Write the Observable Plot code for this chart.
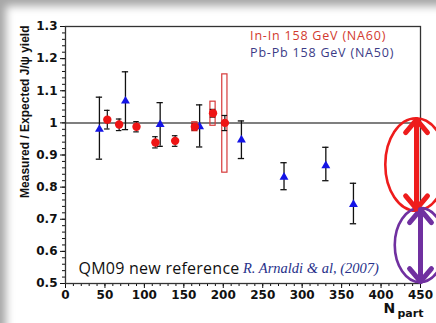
<!DOCTYPE html>
<html><head><meta charset="utf-8">
<script src="https://cdn.jsdelivr.net/npm/d3@7"></script>
<script src="https://cdn.jsdelivr.net/npm/@observablehq/plot@0.6"></script>
<style>
html,body{margin:0;padding:0;background:#fff;}
#wrap{position:relative;width:436px;height:323px;overflow:hidden;background:#fff;}
#wrap svg{display:block;}
#shade{position:absolute;left:0;top:0;width:436px;height:323px;pointer-events:none;
  box-shadow: inset 9px 9px 8px -3px rgba(0,0,0,0.35);}
g[aria-description="legend"] text{letter-spacing:0.8px;}
g[aria-description="ref"] text{letter-spacing:0.25px;}
</style></head><body>
<div id="wrap"><div id="shade"></div></div>
<script>
// NA50 Pb-Pb 158 GeV
const naNpart = [43, 76, 120, 170, 223, 277, 330, 365];
const naRatio = [0.980, 1.068, 0.995, 0.988, 0.947, 0.831, 0.867, 0.746];
const naLow   = [0.887, 0.979, 0.927, 0.925, 0.889, 0.792, 0.820, 0.686];
const naHigh  = [1.080, 1.159, 1.063, 1.056, 1.006, 0.876, 0.924, 0.812];
// NA60 In-In 158 GeV
const inNpart = [53, 68, 90, 114, 139, 164, 187, 202];
const inRatio = [1.010, 0.995, 0.988, 0.939, 0.944, 0.988, 1.030, 1.000];
const inLow   = [0.981, 0.976, 0.972, 0.922, 0.927, 0.978, 1.018, 0.976];
const inHigh  = [1.039, 1.012, 1.004, 0.957, 0.960, 0.998, 1.042, 1.023];
// NA60 systematic boxes
const sysNpart = [164, 187, 202];
const sysLow   = [0.974, 0.991, 0.845];
const sysHigh  = [1.002, 1.066, 1.151];
// right-hand annotation arrows / ellipses
const arrowN    = [445, 450];
const arrowTop  = [1.010, 0.730];
const arrowBot  = [0.732, 0.506];
const ellTop    = [1.013, 0.734];
const ellBottom = [0.725, 0.503];
const annColors = ["#ee1c1c", "#7030a0"];
// ticks
const yTicks = [0.5, 0.6, 0.7, 0.8, 0.9, 1.0, 1.1, 1.2, 1.3];
const yMinor = d3.range(25, 66).map(k => k / 50);
const xTicks = [0, 50, 100, 150, 200, 250, 300, 350, 400, 450];
const xMinor = d3.range(0, 46).map(k => k * 10);

const na = naNpart.map((n, i) => ({n, v: naRatio[i], lo: naLow[i], hi: naHigh[i]}));
const ini = inNpart.map((n, i) => ({n, v: inRatio[i], lo: inLow[i], hi: inHigh[i]}));
const sys = sysNpart.map((n, i) => ({n, lo: sysLow[i], hi: sysHigh[i]}));
const ann = arrowN.map((n, i) => ({n, a: arrowTop[i], b: arrowBot[i], t: ellTop[i], bo: ellBottom[i], c: annColors[i]}));
const ellRx = [39, 32];

const tickFont = {fontFamily: "DejaVu Sans", fontWeight: "bold", fontSize: 12};

const chart = Plot.plot({
  width: 436, height: 323,
  marginLeft: 65, marginRight: 16, marginTop: 26, marginBottom: 40,
  x: {domain: [0, 450]},
  y: {domain: [0.5, 1.3]},
  style: {background: "transparent", overflow: "visible"},
  marks: [
    Plot.axisY({ticks: yMinor, tickSize: 3, tickFormat: () => "", label: null, stroke: "#111"}),
    Plot.axisX({ticks: xMinor, tickSize: 3, tickFormat: () => "", label: null, stroke: "#111"}),
    Plot.axisY({ticks: yTicks, tickSize: 5, tickPadding: 3, tickFormat: d3.format("~g"), label: null, stroke: "#111", fill: "#111", ...tickFont}),
    Plot.axisX({ticks: xTicks, tickSize: 5, tickPadding: 2, tickFormat: d3.format("~g"), label: null, stroke: "#111", fill: "#111", ...tickFont}),
    Plot.ruleY([1], {stroke: "#555", strokeWidth: 1.5}),
    Plot.frame({stroke: "#333", strokeWidth: 1.3}),
    // systematic boxes
    Plot.rect(sys, {x1: d => d.n - 3.3, x2: d => d.n + 3.3, y1: "lo", y2: "hi", fill: "none", stroke: "#d63a3a", strokeWidth: 1.2}),
    // error bars
    Plot.ruleX(na, {x: "n", y1: "lo", y2: "hi", stroke: "#111", strokeWidth: 1.3}),
    Plot.ruleY(na, {y: "lo", x1: d => d.n - 4, x2: d => d.n + 4, stroke: "#111", strokeWidth: 1.3}),
    Plot.ruleY(na, {y: "hi", x1: d => d.n - 4, x2: d => d.n + 4, stroke: "#111", strokeWidth: 1.3}),
    Plot.ruleX(ini, {x: "n", y1: "lo", y2: "hi", stroke: "#111", strokeWidth: 1.2}),
    Plot.ruleY(ini, {y: "lo", x1: d => d.n - 3.5, x2: d => d.n + 3.5, stroke: "#111", strokeWidth: 1.2}),
    Plot.ruleY(ini, {y: "hi", x1: d => d.n - 3.5, x2: d => d.n + 3.5, stroke: "#111", strokeWidth: 1.2}),
    Plot.dot(na, {x: "n", y: "v", symbol: "triangle", r: 3.3, fill: "#1414e6", stroke: "none"}),
    Plot.dot(ini, {x: "n", y: "v", r: 4.2, fill: "#ee1414", stroke: "none"}),
    // legend texts
    Plot.text(["In-In 158 GeV (NA60)"], {x: 234, y: 1.269, textAnchor: "start", fill: "#d23a2e", fontFamily: "Open Sans", fontSize: 12.5, ariaDescription: "legend"}),
    Plot.text(["Pb-Pb 158 GeV (NA50)"], {x: 234, y: 1.219, textAnchor: "start", fill: "#3b3b86", fontFamily: "Open Sans", fontSize: 12.5, ariaDescription: "legend"}),
    Plot.text(["QM09 new reference"], {x: 16.5, y: 0.546, textAnchor: "start", fill: "#111", fontFamily: "Open Sans", fontSize: 16, ariaDescription: "ref"}),
    Plot.text(["R. Arnaldi & al, (2007)"], {x: 225, y: 0.548, textAnchor: "start", fill: "#27318a", fontFamily: "Liberation Serif", fontStyle: "italic", fontSize: 14.5}),
    // axis titles
    Plot.text(["Measured / Expected J/ψ yield"], {frameAnchor: "top-left", dx: -40, dy: -1, rotate: -90, textAnchor: "end", lineAnchor: "middle", fontFamily: "Liberation Sans", fontWeight: "bold", fontSize: 12, fill: "#111"}),
    Plot.text(["N"], {frameAnchor: "bottom-right", dx: -37, dy: 25, textAnchor: "start", lineAnchor: "middle", fontFamily: "DejaVu Sans", fontWeight: "bold", fontSize: 14, fill: "#111"}),
    Plot.text(["part"], {frameAnchor: "bottom-right", dx: -23, dy: 30, textAnchor: "start", lineAnchor: "middle", fontFamily: "DejaVu Sans", fontWeight: "bold", fontSize: 11, fill: "#111"}),
    // annotation ellipses
    (index, scales) => {
      const g = d3.create("svg:g").attr("fill", "none").attr("stroke-width", 2.6);
      ann.forEach((d, i) => {
        const cx = scales.x(d.n), yt = scales.y(d.t), yb = scales.y(d.bo);
        g.append("ellipse")
          .attr("cx", cx).attr("cy", (yt + yb) / 2)
          .attr("rx", scales.x(d.n) - scales.x(d.n - ellRx[i]))
          .attr("ry", (yb - yt) / 2)
          .attr("stroke", d.c);
      });
      return g.node();
    },
    // double-headed arrows
    Plot.arrow(ann, {x1: "n", x2: "n", y1: "b", y2: "a", stroke: "c", strokeWidth: 5, headLength: 5.1, headAngle: 80}),
    Plot.arrow(ann, {x1: "n", x2: "n", y1: "a", y2: "b", stroke: "c", strokeWidth: 5, headLength: 5.1, headAngle: 80})
  ]
});
document.getElementById("wrap").prepend(chart);
</script>
</body></html>
